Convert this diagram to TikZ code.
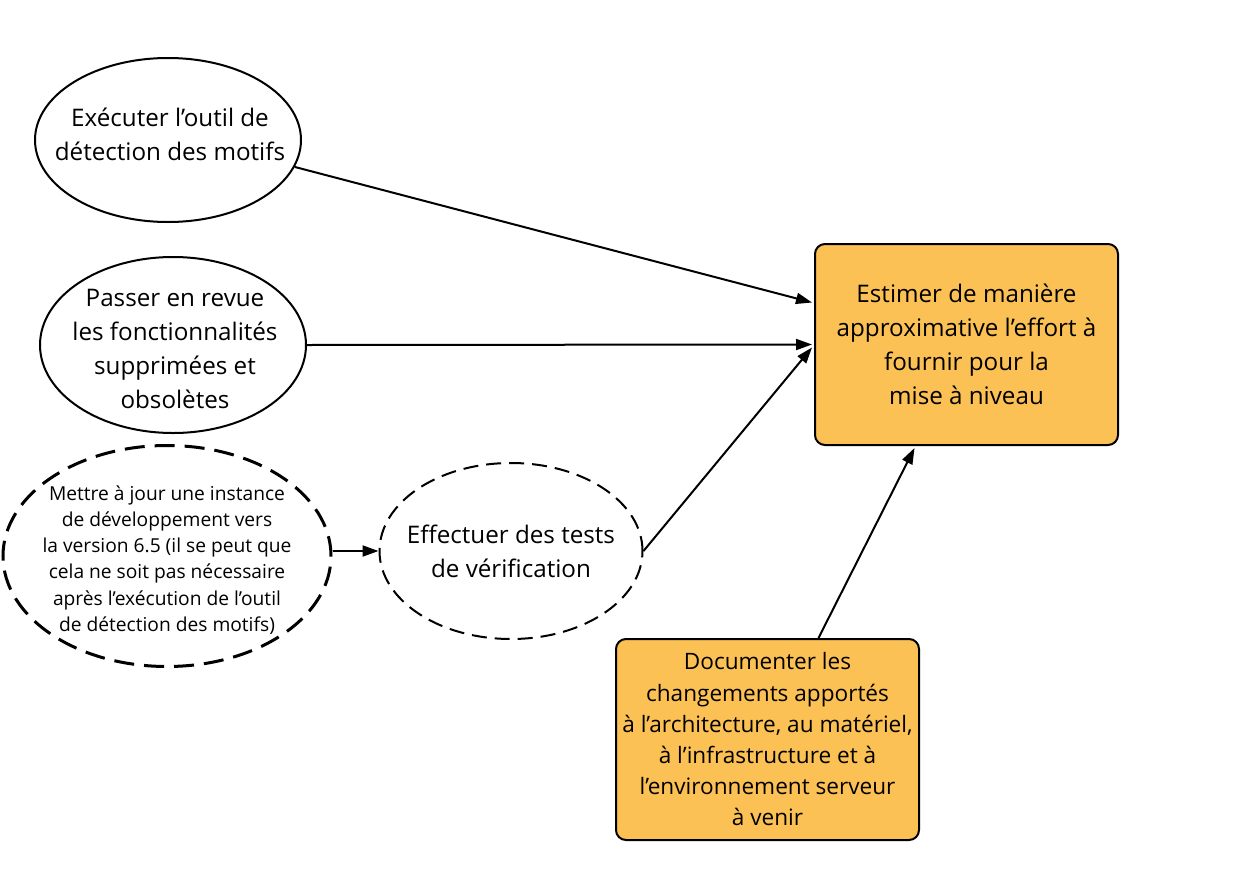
\documentclass[tikz,border=0pt]{standalone}
\usepackage{fontspec}
\setmainfont{Open Sans}
\usetikzlibrary{arrows.meta,calc,shapes.geometric}
\definecolor{boxfill}{RGB}{252,193,84}
\tikzset{
  solidell/.style={ellipse,draw=black,line width=2pt,inner sep=0pt},
  dashell/.style={ellipse,draw=black,line width=3pt,dash pattern=on 20pt off 10pt,inner sep=0pt},
  dashellthin/.style={ellipse,draw=black,line width=2pt,dash pattern=on 15pt off 8pt,inner sep=0pt},
  bigtext/.style={align=center,font=\fontsize{24.2}{33.8}\selectfont,inner sep=0pt},
  smalltext/.style={align=center,font=\fontsize{19.2}{26.2}\selectfont,inner sep=0pt},
  orangebox/.style={draw=black,line width=2pt,fill=boxfill,rounded corners=10pt,minimum width=303pt,minimum height=201pt,inner sep=0pt},
  conn/.style={line width=2pt,-{Triangle[length=16pt,width=11pt]}}
}
\begin{document}
\begin{tikzpicture}[x=1pt,y={(0,-1pt)}]
\useasboundingbox (0,0) rectangle (1260,878);
\node[solidell,minimum width=266pt,minimum height=164pt] (A) at (168,140) {};
\node[bigtext] (At) at ($(A)+(2,-6)$) {Exécuter l’outil de\\détection des motifs};
\node[solidell,minimum width=266pt,minimum height=176pt] (B) at (173,345) {};
\node[bigtext] (Bt) at ($(B)+(2,4)$) {Passer en revue\\les fonctionnalités\\supprimées et\\obsolètes};
\node[dashell,minimum width=328pt,minimum height=221pt] (C) at (167,556) {};
\node[smalltext] (Ct) at ($(C)+(0,4)$) {Mettre à jour une instance\\de développement vers\\la version 6.5 (il se peut que\\cela ne soit pas nécessaire\\après l’exécution de l’outil\\de détection des motifs)};
\node[dashellthin,minimum width=263pt,minimum height=176pt] (D) at (511,551) {};
\node[bigtext] (Dt) at (D) {Effectuer des tests\\de vérification};
\node[orangebox] (E) at (966.5,344.5) {};
\node[bigtext] (Et) at (E) {Estimer de manière\\approximative l’effort à\\fournir pour la\\mise à niveau};
\node[orangebox] (F) at (767.5,739.5) {};
\node[bigtext,font=\fontsize{22.6}{31.2}\selectfont] (Ft) at (F) {Documenter les\\changements apportés\\à l’architecture, au matériel,\\à l’infrastructure et à\\l’environnement serveur\\à venir};
\draw[conn] (A.-12) -- ($(E.west)+(-2,-42)$);
\draw[conn] (B.east) -- ($(E.west)+(-2,0)$);
\draw[conn] (D.east) -- ($(E.west)+(-2,3)$);
\draw[conn] ($(F.north)+(51,0)$) -- ($(E.south)+(-52,2)$);
\draw[conn] (D.west -| C.east) -- (D.west);
\end{tikzpicture}
\end{document}
